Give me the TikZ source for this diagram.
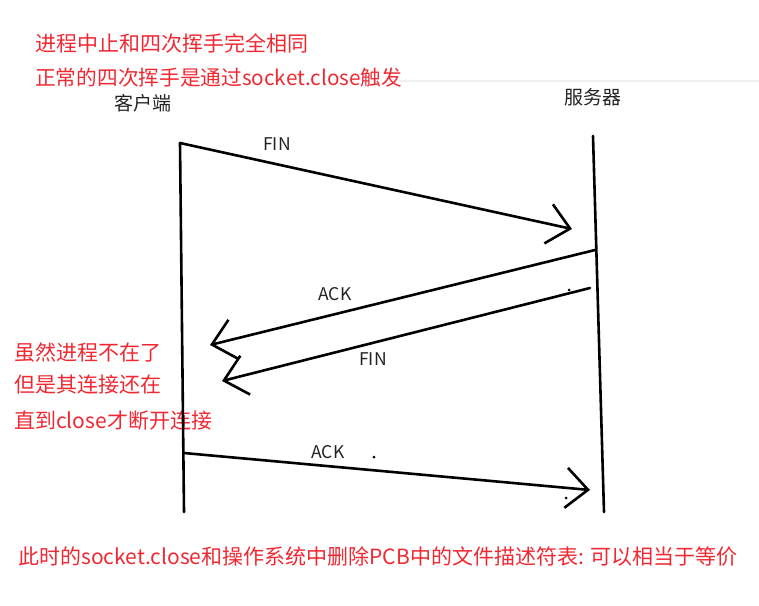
\documentclass[tikz,border=0pt]{standalone}
\usepackage{fontspec}
\setmainfont{Noto Sans CJK SC}
\usetikzlibrary{arrows.meta}
\definecolor{NoteRed}{RGB}{240,40,50}
\definecolor{LblGray}{RGB}{34,34,34}
\tikzset{
  life/.style={line width=2.6pt,black,line cap=round},
  msg/.style={-{Straight Barb[length=22pt,width=40pt]},line width=2.6pt,black,line cap=round},
  note/.style={anchor=west,inner sep=0pt,text=NoteRed,font=\fontsize{21}{25}\selectfont},
  lbl/.style={inner sep=0pt,text=LblGray,font=\fontsize{17.5}{21}\selectfont},
  role/.style={inner sep=0pt,text=LblGray,font=\fontsize{19}{22}\selectfont},
  speck/.style={circle,fill=black,inner sep=0pt,minimum size=3pt},
}

\begin{document}
\begin{tikzpicture}[x=1pt,y=-1pt]
  \useasboundingbox (0,0) rectangle (759,605);
  \draw[black!6,line width=1.5pt] (400,81) -- (759,81);

  % notes
  \node[note] (n1) at (35,43) {进程中止和四次挥手完全相同};
  \node[note,font=\fontsize{20.7}{25}\selectfont] (n2) at (35,78) {正常的四次挥手是通过socket.close触发};
  \node[note] (n3) at (14,352) {虽然进程不在了};
  \node[note] (n4) at (14,385) {但是其连接还在};
  \node[note] (n5) at (14,421) {直到close才断开连接};
  \node[note] (n6) at (18,557)
    {此时的socket.close和操作系统中删除PCB中的文件描述符表: 可以相当于等价};

  % roles and lifelines
  \node[role] (cli) at (143,103) {客户端};
  \node[role] (srv) at (593,97) {服务器};
  \coordinate (c1) at (180,143);
  \coordinate (c2) at (184,512);
  \coordinate (s1) at (593,136);
  \coordinate (s2) at (604,512);
  \draw[life] (c1) -- (c2);
  \draw[life] (s1) -- (s2);

  % messages
  \coordinate (m1a) at (180,143);
  \coordinate (m1b) at (572,229);
  \coordinate (m2a) at (595,250);
  \coordinate (m2b) at (210,345);
  \coordinate (m3a) at (590,288);
  \coordinate (m3b) at (222,381);
  \coordinate (m4a) at (184,453);
  \coordinate (m4b) at (590,490);
  \draw[msg] (m1a) -- (m1b);
  \draw[msg] (m2a) -- (m2b);
  \draw[msg] (m3a) -- (m3b);
  \draw[msg] (m4a) -- (m4b);

  \node[lbl] (l1) at (277,144) {FIN};
  \node[lbl] (l2) at (335,294) {ACK};
  \node[lbl] (l3) at (373,359) {FIN};
  \node[lbl] (l4) at (328,452) {ACK};

  \node[speck] (d1) at (569,290) {};
  \node[speck] (d2) at (374,457) {};
  \node[speck] (d3) at (566,498) {};
\end{tikzpicture}
\end{document}
